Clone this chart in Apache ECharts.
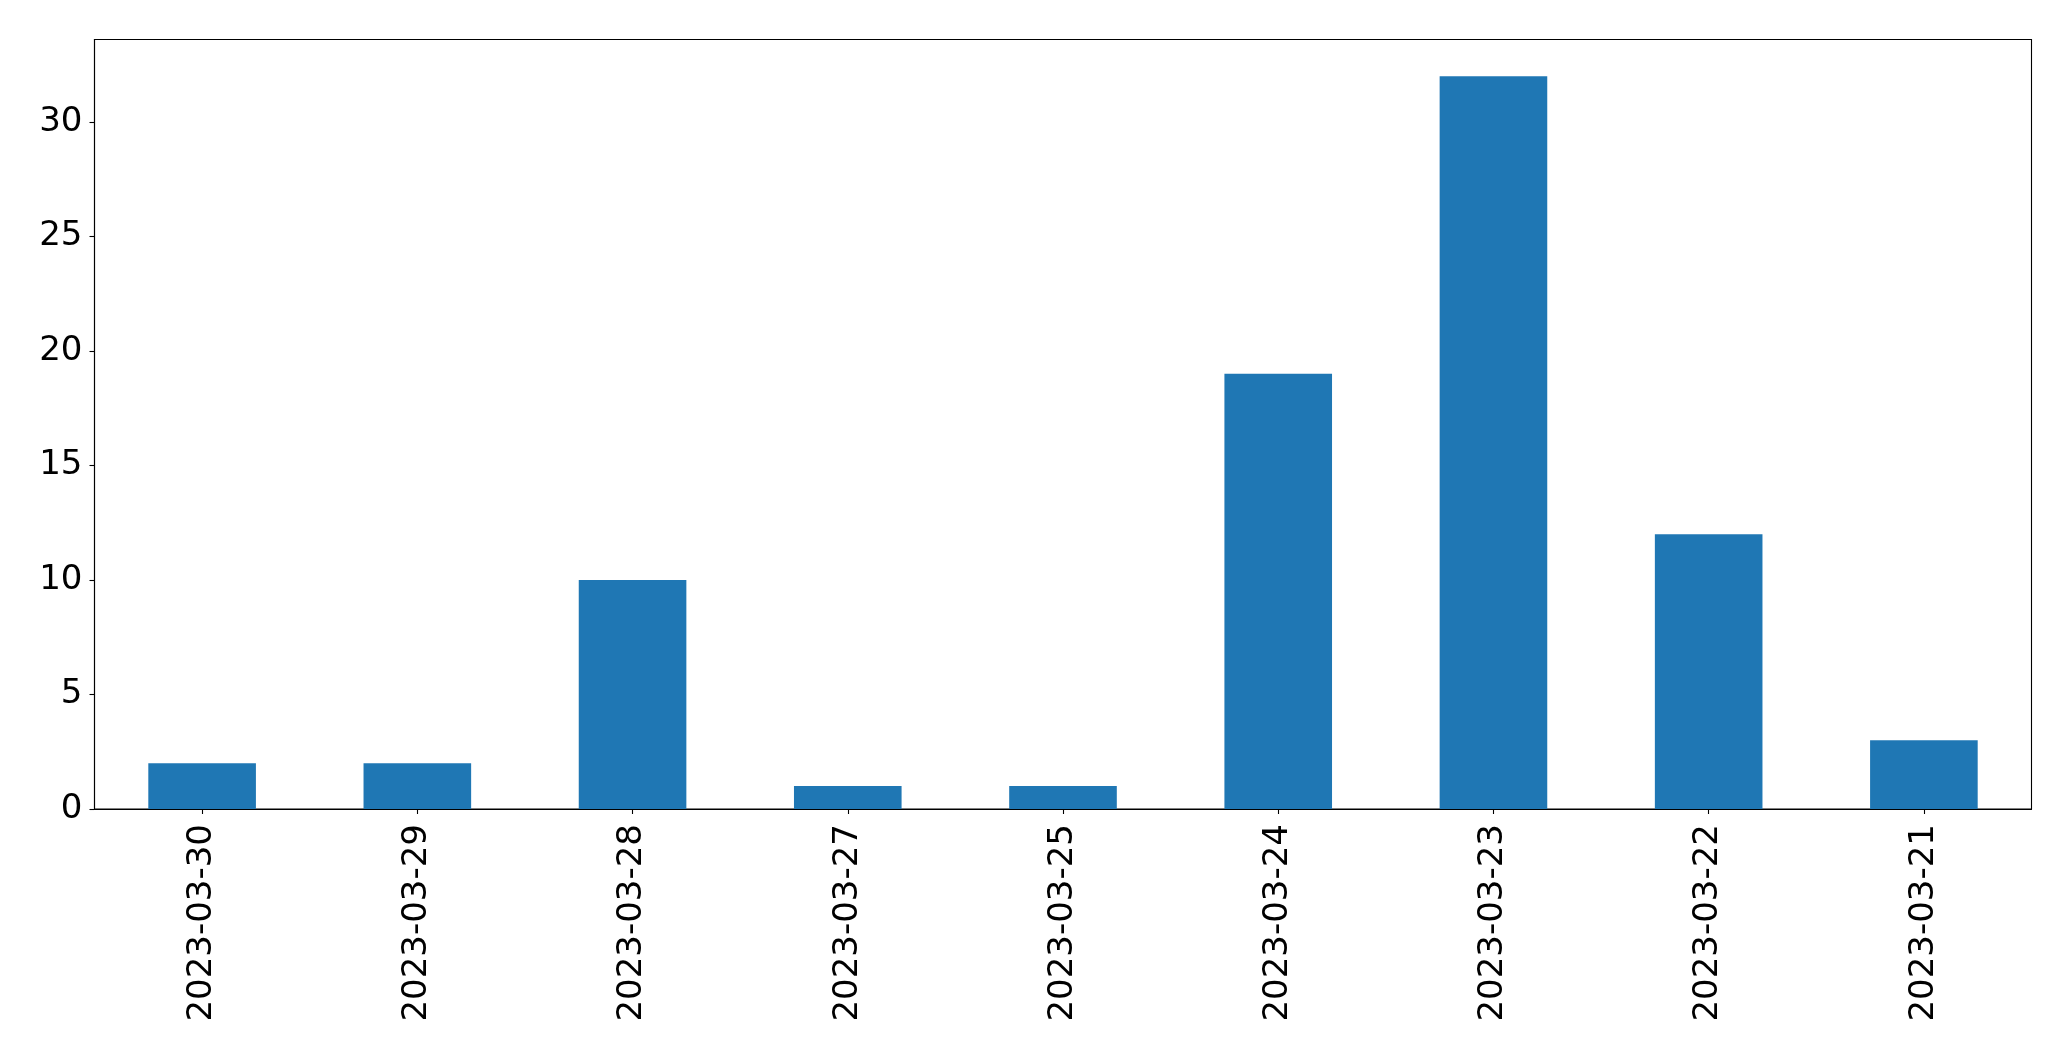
<!DOCTYPE html>
<html>
<head>
<meta charset="utf-8">
<script src="https://cdn.jsdelivr.net/npm/echarts@6/dist/echarts.min.js"></script>
<style>html,body{margin:0;padding:0;background:#fff;}#c{width:2071px;height:1061px;}</style>
</head>
<body>
<div id="c"></div>
<script>
const categories = ["2023-03-30","2023-03-29","2023-03-28","2023-03-27","2023-03-25","2023-03-24","2023-03-23","2023-03-22","2023-03-21"];
const values = [2, 2, 10, 1, 1, 19, 32, 12, 3];
const yTicks = [0, 5, 10, 15, 20, 25, 30];
const yMax = 33.6;

const chart = echarts.init(document.getElementById('c'), null, {renderer: 'canvas'});
const font = 'DejaVu Sans';
chart.setOption({
  animation: false,
  backgroundColor: '#fff',
  grid: {left: 94.5, right: 39.5, top: 39.5, bottom: 252, show: true, borderColor: '#000', borderWidth: 1.1, backgroundColor: 'transparent'},
  xAxis: {
    type: 'category',
    data: categories,
    boundaryGap: true,
    axisLine: {show: true, lineStyle: {color: '#000', width: 1.1}},
    axisTick: {show: true, alignWithLabel: true, length: 5, lineStyle: {color: '#000', width: 1.1}},
    axisLabel: {rotate: 90, fontFamily: font, fontSize: 34, color: '#000', margin: 15, interval: 0},
    splitLine: {show: false}
  },
  yAxis: {
    type: 'value',
    min: 0,
    max: yMax,
    axisLine: {show: true, lineStyle: {color: '#000', width: 1.1}},
    axisTick: {show: true, length: 5, customValues: yTicks, lineStyle: {color: '#000', width: 1.1}},
    axisLabel: {fontFamily: font, fontSize: 34, color: '#000', margin: 12, customValues: yTicks},
    splitLine: {show: false}
  },
  series: [{
    type: 'bar',
    data: values,
    barWidth: '50%',
    itemStyle: {color: '#1f77b4'}
  }]
});
</script>
</body>
</html>
